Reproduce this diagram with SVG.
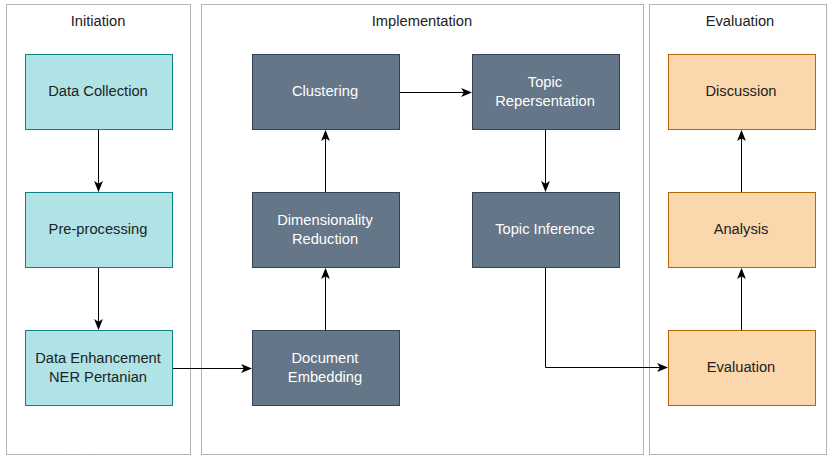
<svg xmlns="http://www.w3.org/2000/svg" width="829" height="456" viewBox="0 0 829 456">
<style>
text{font-family:"Liberation Sans",Arial,sans-serif;font-size:14.7px;text-anchor:middle;dominant-baseline:central}
.grp{fill:none;stroke:#666;stroke-width:1;stroke-dasharray:1 1}
.title{fill:#222}
.cy rect{fill:#b0e3e6;stroke:#0e8088}
.cy text{fill:#222}
.dk rect{fill:#647687;stroke:#314354}
.dk text{fill:#fff}
.or rect{fill:#fad7ac;stroke:#b46504}
.or text{fill:#222}
.edge{fill:none;stroke:#000;stroke-width:1}
</style>
<defs>
<marker id="ah" viewBox="0 0 10 10" refX="9" refY="5" markerWidth="11" markerHeight="11" markerUnits="userSpaceOnUse" orient="auto">
<path d="M0,1 L10,5 L0,9 L2.5,5 Z" fill="#000"/>
</marker>
</defs>
<rect width="829" height="456" fill="#fff"/>
<g id="initiation"><rect class="grp" x="6.5" y="4.5" width="184" height="450"/><text class="title" x="98" y="21">Initiation</text></g>
<g id="implementation"><rect class="grp" x="201.5" y="4.5" width="442" height="450"/><text class="title" x="422" y="21">Implementation</text></g>
<g id="evaluation-group"><rect class="grp" x="649.5" y="4.5" width="177" height="450"/><text class="title" x="740" y="21">Evaluation</text></g>

<g id="connectors">
<path class="edge" d="M98.5,130 V191" marker-end="url(#ah)"/>
<path class="edge" d="M98.5,268 V329" marker-end="url(#ah)"/>
<path class="edge" d="M172,368.5 H251" marker-end="url(#ah)"/>
<path class="edge" d="M325.5,330 V269" marker-end="url(#ah)"/>
<path class="edge" d="M325.5,192 V131" marker-end="url(#ah)"/>
<path class="edge" d="M399,92.5 H471" marker-end="url(#ah)"/>
<path class="edge" d="M545.5,130 V191" marker-end="url(#ah)"/>
<path class="edge" d="M545.5,268 V367.5 H667" marker-end="url(#ah)"/>
<path class="edge" d="M741.5,330 V269" marker-end="url(#ah)"/>
<path class="edge" d="M741.5,192 V131" marker-end="url(#ah)"/>
</g>

<g id="data-collection" class="cy"><rect x="25.5" y="54.5" width="147" height="75"/><text x="98" y="91">Data Collection</text></g>
<g id="pre-processing" class="cy"><rect x="25.5" y="192.5" width="147" height="75"/><text x="98" y="229">Pre-processing</text></g>
<g id="data-enhancement" class="cy"><rect x="25.5" y="330.5" width="147" height="75"/><text x="98" y="358">Data Enhancement</text><text x="98" y="377">NER Pertanian</text></g>

<g id="clustering" class="dk"><rect x="252.5" y="54.5" width="147" height="75"/><text x="325" y="91">Clustering</text></g>
<g id="dimensionality-reduction" class="dk"><rect x="252.5" y="192.5" width="147" height="75"/><text x="325" y="220">Dimensionality</text><text x="325" y="239">Reduction</text></g>
<g id="document-embedding" class="dk"><rect x="252.5" y="330.5" width="147" height="75"/><text x="325" y="358">Document</text><text x="325" y="377">Embedding</text></g>
<g id="topic-representation" class="dk"><rect x="472.5" y="54.5" width="147" height="75"/><text x="545" y="82">Topic</text><text x="545" y="101">Repersentation</text></g>
<g id="topic-inference" class="dk"><rect x="472.5" y="192.5" width="147" height="75"/><text x="545" y="229">Topic Inference</text></g>

<g id="discussion" class="or"><rect x="668.5" y="54.5" width="147" height="75"/><text x="741" y="91">Discussion</text></g>
<g id="analysis" class="or"><rect x="668.5" y="192.5" width="147" height="75"/><text x="741" y="229">Analysis</text></g>
<g id="evaluation" class="or"><rect x="668.5" y="330.5" width="147" height="75"/><text x="741" y="367">Evaluation</text></g>
</svg>
